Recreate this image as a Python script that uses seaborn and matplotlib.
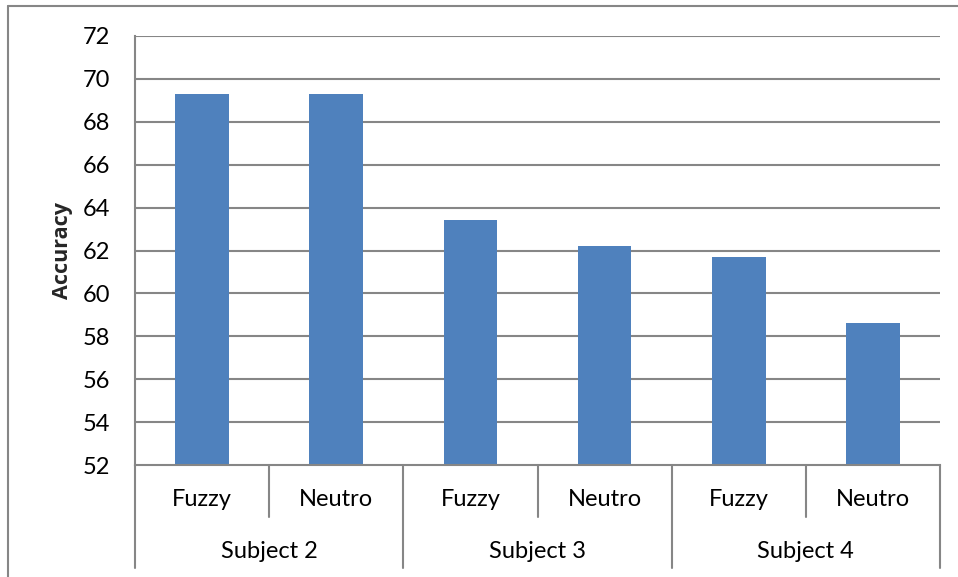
import matplotlib
matplotlib.use("Agg")
import matplotlib.pyplot as plt
import matplotlib.transforms as mtransforms
from matplotlib.lines import Line2D
import seaborn as sns
import pandas as pd

# ---- data ----
subjects = ["Subject 2", "Subject 3", "Subject 4"]
methods = ["Fuzzy", "Neutro"]
accuracy = [69.3, 69.3, 63.4, 62.2, 61.7, 58.6]
y_ticks = [52, 54, 56, 58, 60, 62, 64, 66, 68, 70, 72]

sns.set_theme(style="white")
plt.rcParams["font.family"] = ["Lato", "DejaVu Sans"]

rows = []
i = 0
for s in subjects:
    for m in methods:
        rows.append({"key": f"{s}|{m}", "subject": s, "method": m, "acc": accuracy[i]})
        i += 1
df = pd.DataFrame(rows)

W, H = 958, 577
fig = plt.figure(figsize=(W / 100, H / 100), dpi=100)
ax = fig.add_axes([135 / W, 1 - 465 / H, (940 - 135) / W, (465 - 36) / H])

grid_c = "#868686"
sns.barplot(data=df, x="key", y="acc", order=list(df["key"]), color="#4F81BD",
            saturation=1, width=0.4, ax=ax, zorder=3, edgecolor="#4F81BD", linewidth=0)

FS = 17
ax.set_ylim(52, 72)
ax.set_xlim(-0.5, len(df) - 0.5)
ax.set_yticks(y_ticks)
ax.set_yticklabels([str(t) for t in y_ticks], fontsize=FS, color="black")
ax.tick_params(axis="y", length=6, width=1.2, color=grid_c, direction="out", pad=12)
ax.tick_params(axis="x", length=0, labelbottom=False)
ax.set_xlabel("")
ax.set_ylabel("Accuracy", fontsize=15.5, fontweight="bold",
              family=["Open Sans", "DejaVu Sans"])
ax.yaxis.set_label_coords(-(135 - 73) / (940 - 135), 0.5)

for t in y_ticks[1:]:
    ax.axhline(t, color=grid_c, lw=1.5, zorder=1)
for side in ["top", "right"]:
    ax.spines[side].set_visible(False)
ax.spines["left"].set_color(grid_c)
ax.spines["left"].set_linewidth(1.5)
ax.spines["bottom"].set_color(grid_c)
ax.spines["bottom"].set_linewidth(1.5)
ax.spines["bottom"].set_zorder(4)

# multi-level category axis
trans = mtransforms.blended_transform_factory(ax.transData, ax.transAxes)
ah = 465 - 36
small = -(517 - 465) / ah
big = -(568 - 465) / ah
n = len(df)
for k in range(n + 1):
    xpos = k - 0.5
    y1 = big if k % 2 == 0 else small
    ax.add_line(Line2D([xpos, xpos], [0, y1], transform=trans, color=grid_c,
                       lw=1.5, clip_on=False))
for k, m in enumerate(df["method"]):
    ax.text(k, -(500 - 465) / ah, m, transform=trans, ha="center", va="center",
            fontsize=FS, color="black")
for j, s in enumerate(subjects):
    ax.text(2 * j + 0.5, -(552 - 465) / ah, s, transform=trans, ha="center",
            va="center", fontsize=FS, color="black")

# chart-area frame (Excel style)
fig.add_artist(Line2D([8 / W, 8 / W], [0, 1 - 6 / H], transform=fig.transFigure,
                      color=grid_c, lw=1.5))
fig.add_artist(Line2D([8 / W, 1], [1 - 6 / H, 1 - 6 / H], transform=fig.transFigure,
                      color=grid_c, lw=1.5))

fig.savefig("out.png", dpi=100, facecolor="white")
